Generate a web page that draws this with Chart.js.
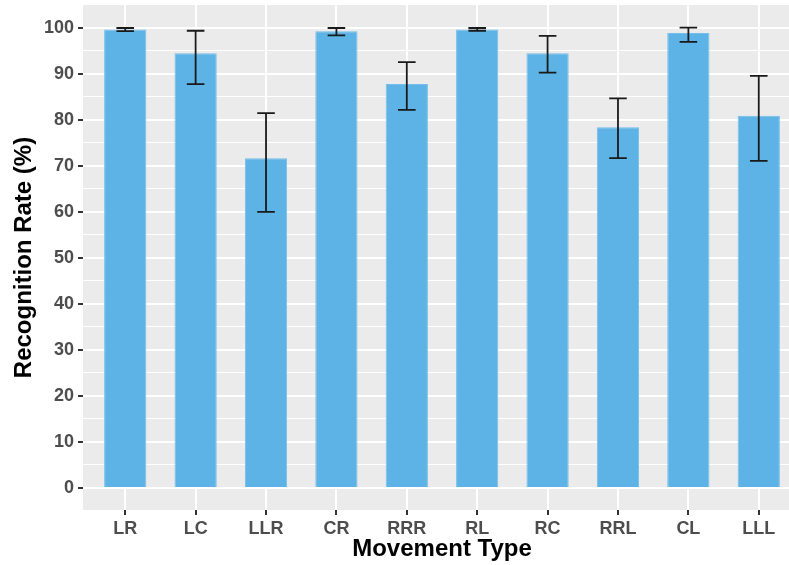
<!DOCTYPE html>
<html>
<head>
<meta charset="utf-8">
<script src="https://cdn.jsdelivr.net/npm/chart.js@4"></script>
<style>
  html, body { margin: 0; padding: 0; background: #fff; overflow: hidden; }
  #wrap { width: 789px; height: 565px; overflow: hidden; }
</style>
</head>
<body>
<div id="wrap"><canvas id="myChart" width="801" height="565"></canvas></div>
<script>
var movements = ['LR', 'LC', 'LLR', 'CR', 'RRR', 'RL', 'RC', 'RRL', 'CL', 'LLL'];
var rates = [99.7, 94.5, 71.7, 99.3, 87.8, 99.7, 94.5, 78.4, 98.9, 80.9];
var errLow = [99.3, 87.8, 60.0, 98.4, 82.2, 99.4, 90.3, 71.7, 97.0, 71.1];
var errHigh = [100.0, 99.4, 81.5, 100.0, 92.6, 100.0, 98.3, 84.7, 100.1, 89.6];
var yTicks = [0, 10, 20, 30, 40, 50, 60, 70, 80, 90, 100];

var fontFam = '"Liberation Sans", Arial, Helvetica, sans-serif';

// grey panel behind the plot
var panelBg = {
  id: 'panelBg',
  beforeDraw: function(chart) {
    var a = chart.chartArea, c = chart.ctx;
    c.save();
    c.fillStyle = '#EBEBEB';
    c.fillRect(a.left, a.top, a.right - a.left, a.bottom - a.top);
    c.restore();
  }
};

// error bars, drawn through the chart's own scales
var errorBars = {
  id: 'errorBars',
  afterDatasetsDraw: function(chart) {
    var xs = chart.scales.x, ys = chart.scales.y, c = chart.ctx;
    var half = (xs.getPixelForValue(1) - xs.getPixelForValue(0)) * 0.125;
    c.save();
    c.strokeStyle = '#1a1a1a';
    c.lineWidth = 1.8;
    movements.forEach(function(m, i) {
      var x = xs.getPixelForValue(i);
      var lo = ys.getPixelForValue(errLow[i]);
      var hi = ys.getPixelForValue(errHigh[i]);
      c.beginPath();
      c.moveTo(x, lo); c.lineTo(x, hi);
      c.moveTo(x - half, lo); c.lineTo(x + half, lo);
      c.moveTo(x - half, hi); c.lineTo(x + half, hi);
      c.stroke();
    });
    c.restore();
  }
};

function noPad(scale) {
  scale.paddingTop = 0;
  scale.paddingBottom = 0;
  scale.paddingLeft = 0;
  scale.paddingRight = 0;
}

var ctx = document.getElementById('myChart').getContext('2d');
var myChart = new Chart(ctx, {
  type: 'bar',
  data: {
    datasets: [{
      data: rates.map(function(r, i) { return { x: i, y: r }; }),
      backgroundColor: '#5DB3E6',
      borderColor: '#74BEEA',
      borderWidth: 1,
      barPercentage: 0.6,
      categoryPercentage: 1.0
    }]
  },
  options: {
    responsive: false,
    animation: false,
    layout: { padding: { top: 5, right: 0, left: 0, bottom: 0 } },
    plugins: { legend: { display: false }, tooltip: { enabled: false } },
    scales: {
      x: {
        type: 'linear',
        offset: false,
        min: -0.6,
        max: 9.6,
        afterBuildTicks: function(scale) {
          scale.ticks = movements.map(function(m, i) { return { value: i }; });
        },
        afterFit: function(scale) { scale.height = 55; noPad(scale); },
        border: { display: false },
        grid: { offset: false, color: '#FFFFFF', lineWidth: 2, tickColor: '#333333', tickLength: 5 },
        ticks: {
          autoSkip: false,
          maxRotation: 0,
          padding: 3,
          color: '#4D4D4D',
          font: { family: fontFam, size: 18, weight: 'bold' },
          callback: function(v) { return movements[v]; }
        },
        title: {
          display: true,
          text: 'Movement Type',
          color: '#000000',
          font: { family: fontFam, size: 24, weight: 'bold' },
          padding: { top: 0, bottom: 1 }
        }
      },
      y: {
        min: -4.8,
        max: 105,
        afterBuildTicks: function(scale) {
          var t = [];
          for (var v = 0; v <= 100; v += 5) t.push({ value: v });
          scale.ticks = t;
        },
        afterFit: function(scale) { scale.width = 83; noPad(scale); },
        border: { display: false },
        grid: {
          color: '#FFFFFF',
          lineWidth: function(c) { return c.tick && c.tick.value % 10 === 0 ? 2 : 1; },
          tickColor: function(c) { return c.tick && c.tick.value % 10 === 0 ? '#333333' : 'rgba(0,0,0,0)'; },
          tickLength: 5
        },
        ticks: {
          autoSkip: false,
          padding: 4,
          color: '#4D4D4D',
          font: { family: fontFam, size: 18, weight: 'bold' },
          callback: function(v) { return yTicks.indexOf(v) >= 0 ? v : ''; }
        },
        title: {
          display: true,
          text: 'Recognition Rate (%)',
          color: '#000000',
          font: { family: fontFam, size: 24, weight: 'bold' },
          padding: { top: 10, bottom: 0 }
        }
      }
    }
  },
  plugins: [panelBg, errorBars]
});
</script>
</body>
</html>
